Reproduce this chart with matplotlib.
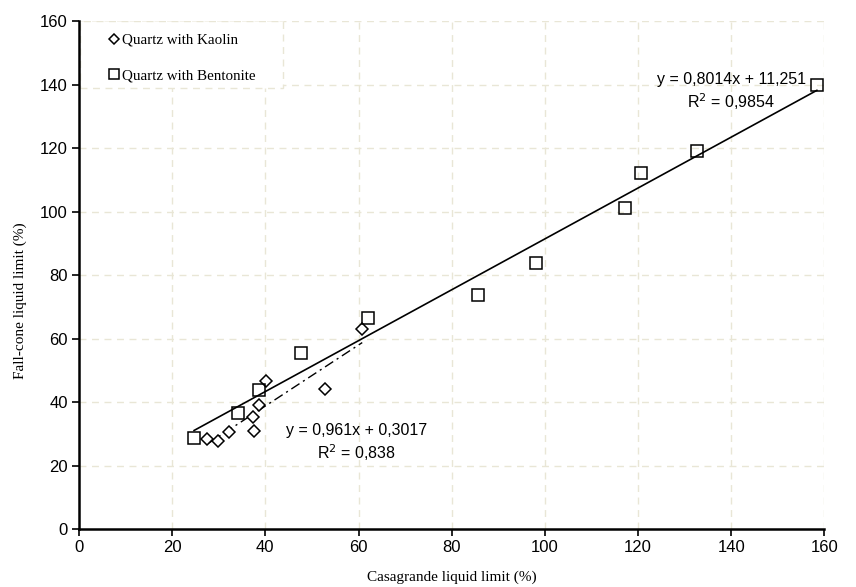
import numpy as np
import matplotlib
matplotlib.use("Agg")
import matplotlib.pyplot as plt
from matplotlib.patches import Rectangle

# Quartz with Kaolin
kaolin_x = [27.5, 29.8, 32.1, 37.4, 37.6, 38.6, 40.1, 52.9, 60.8]
kaolin_y = [28.4, 27.7, 30.6, 35.2, 31.0, 39.0, 46.6, 44.0, 62.9]

# Quartz with Bentonite
bento_x = [24.7, 34.2, 38.6, 47.6, 62.1, 85.6, 98.0, 117.3, 120.6, 132.6, 158.4]
bento_y = [28.6, 36.4, 43.8, 55.3, 66.4, 73.7, 83.7, 101.0, 112.3, 119.2, 139.8]

# trendlines (as printed on the chart)
kaolin_fit = (0.961, 0.3017)
bento_fit = (0.8014, 11.251)

ticks = [0, 20, 40, 60, 80, 100, 120, 140, 160]

fig = plt.figure(figsize=(8.56, 5.87), dpi=100)
ax = fig.add_axes([0.0923, 0.0988, 0.8707, 0.8652])

grid_col = "#e9e6d6"
for t in ticks[1:]:
    ax.axvline(t, color=grid_col, linestyle=(0, (5, 4)), linewidth=1.0, zorder=0)
    ax.axhline(t, color=grid_col, linestyle=(0, (5, 4)), linewidth=1.0, zorder=0)

ax.plot(kaolin_x, kaolin_y, linestyle="none", marker="D", markersize=6.3,
        markerfacecolor="white", markeredgecolor="black", markeredgewidth=1.1,
        label="Quartz with Kaolin", zorder=3)
ax.plot(bento_x, bento_y, linestyle="none", marker="s", markersize=8,
        markerfacecolor="none", markeredgecolor="black", markeredgewidth=1.1,
        label="Quartz with Bentonite", zorder=3)

xk = np.array([min(kaolin_x), max(kaolin_x)])
ax.plot(xk, kaolin_fit[0] * xk + kaolin_fit[1], color="black", linewidth=1.0,
        linestyle=(0, (7, 3, 1.5, 3)), zorder=2)
xb = np.array([min(bento_x), max(bento_x)])
ax.plot(xb, bento_fit[0] * xb + bento_fit[1], color="black", linewidth=1.2, zorder=2)

sans = "Liberation Sans"
serif = "Liberation Serif"
ax.text(140, 137.7, "y = 0,8014x + 11,251\nR$^2$ = 0,9854", ha="center", va="center",
        fontsize=11.5, family=sans, linespacing=1.25)
ax.text(59.5, 27.0, "y = 0,961x + 0,3017\nR$^2$ = 0,838", ha="center", va="center",
        fontsize=11.5, family=sans, linespacing=1.25)

ax.set_xlim(0, 160)
ax.set_ylim(0, 160)
ax.set_xticks(ticks)
ax.set_yticks(ticks)
for lab in ax.get_xticklabels() + ax.get_yticklabels():
    lab.set_family(sans)
    lab.set_fontsize(12)
ax.tick_params(direction="out", length=5, width=1.2, pad=3)

for s in ["top", "right"]:
    ax.spines[s].set_visible(False)
for s in ["left", "bottom"]:
    ax.spines[s].set_linewidth(1.8)

ax.set_xlabel("Casagrande liquid limit (%)", family=serif, fontsize=11, labelpad=11)
ax.set_ylabel("Fall-cone liquid limit (%)", family=serif, fontsize=11)
ax.yaxis.set_label_coords(-0.07, 0.45)

# legend box: white with faint dashed border, wider than the entries
ax.add_patch(Rectangle((0.001, 0.868), 0.273, 0.132, transform=ax.transAxes,
                       facecolor="white", edgecolor=grid_col, linestyle=(0, (5, 4)),
                       linewidth=1.0, zorder=1))
leg = ax.legend(loc="upper left", bbox_to_anchor=(0.035, 0.985), prop={"family": serif, "size": 10.8},
                handlelength=0.6, handletextpad=0.2, labelspacing=1.45,
                borderpad=0.3, borderaxespad=0.0, frameon=False)
leg.legend_handles[0].set_markersize(5)
leg.legend_handles[1].set_markersize(6.5)

fig.savefig("out.png", dpi=100)
